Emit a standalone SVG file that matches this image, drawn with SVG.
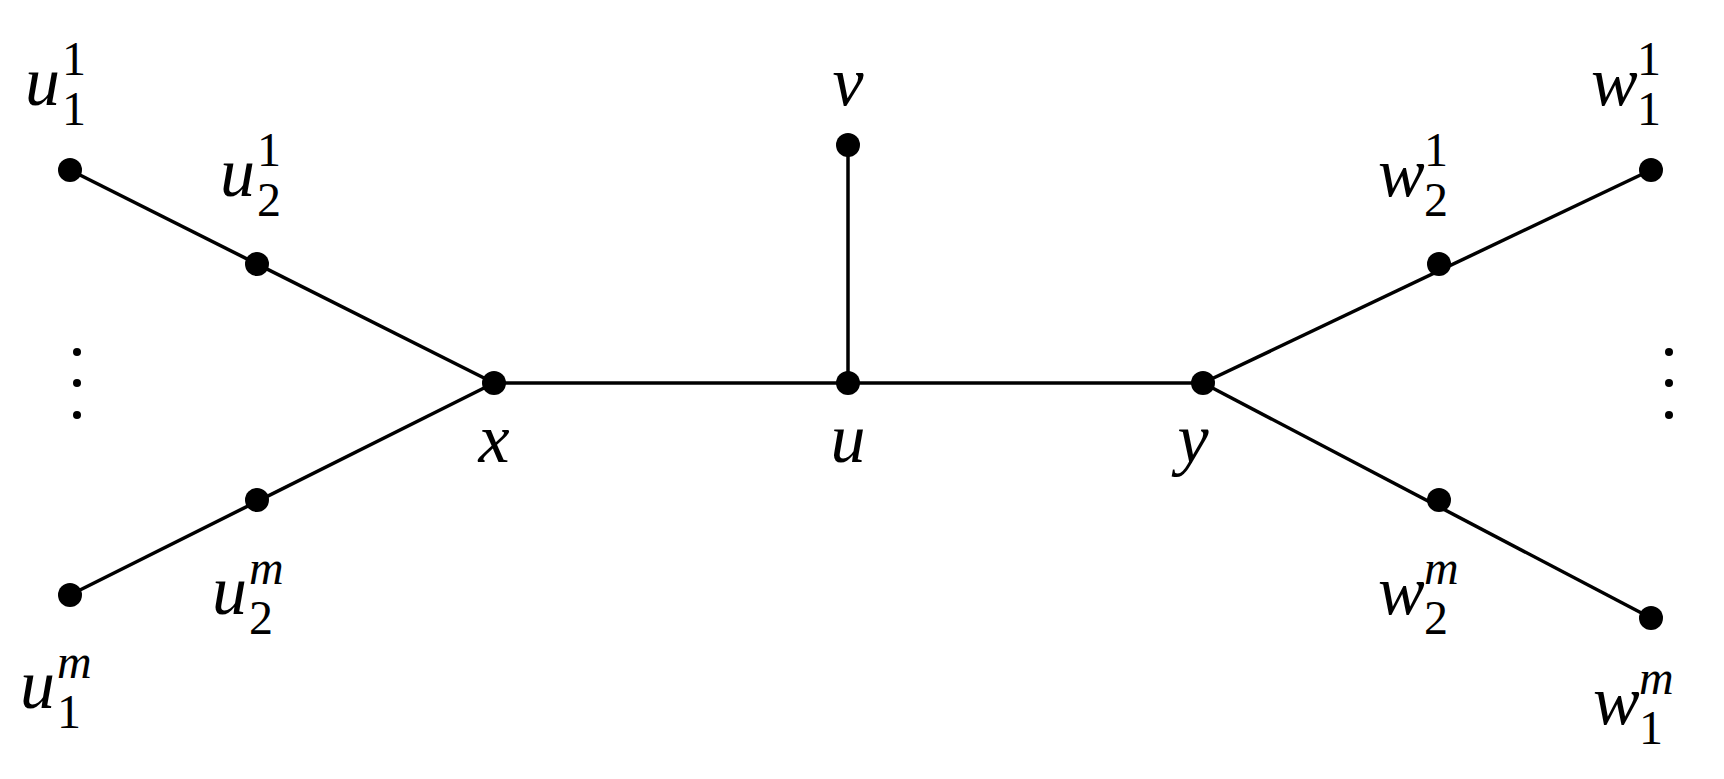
<svg xmlns="http://www.w3.org/2000/svg" width="1724" height="779" viewBox="0 0 1724 779">
<style>
.e{stroke:#000;stroke-width:3.5;fill:none}
.d{fill:#000}
text{font-family:"Liberation Serif","DejaVu Serif",serif;fill:#000}
.m{font-size:70px;font-style:italic}
.s{font-size:48px}
.si{font-size:48px;font-style:italic}
</style>
<rect width="1724" height="779" fill="#fff"/>
<g id="edges">
<line class="e" x1="70" y1="170" x2="494" y2="383"/>
<line class="e" x1="70" y1="595" x2="494" y2="383"/>
<line class="e" x1="494" y1="383" x2="1203" y2="383"/>
<line class="e" x1="848" y1="145" x2="848" y2="383"/>
<line class="e" x1="1651" y1="170" x2="1203" y2="383"/>
<line class="e" x1="1651" y1="618" x2="1203" y2="383"/>
</g>
<g id="n-u11"><circle class="d" cx="70" cy="170" r="12"/><text class="m" x="25" y="105">u</text><text class="s" x="62" y="125">1</text><text class="s" x="62" y="75">1</text></g>
<g id="n-u21"><circle class="d" cx="257" cy="264" r="12"/><text class="m" x="220" y="196">u</text><text class="s" x="257" y="216">2</text><text class="s" x="257" y="166">1</text></g>
<g id="n-x"><circle class="d" cx="494" cy="383" r="12"/><text class="m" x="494" y="462" text-anchor="middle">x</text></g>
<g id="n-u2m"><circle class="d" cx="257" cy="500" r="12"/><text class="m" x="212" y="614">u</text><text class="s" x="249" y="634">2</text><text class="si" x="249" y="584">m</text></g>
<g id="n-u1m"><circle class="d" cx="70" cy="595" r="12"/><text class="m" x="20" y="708">u</text><text class="s" x="57" y="728">1</text><text class="si" x="57" y="678">m</text></g>
<g id="n-v"><circle class="d" cx="848" cy="145" r="12"/><text class="m" x="848" y="105" text-anchor="middle">v</text></g>
<g id="n-u"><circle class="d" cx="848" cy="383" r="12"/><text class="m" x="848" y="462" text-anchor="middle">u</text></g>
<g id="n-y"><circle class="d" cx="1203" cy="383" r="12"/><text class="m" x="1193" y="462" text-anchor="middle">y</text></g>
<g id="n-w21"><circle class="d" cx="1439" cy="264" r="12"/><text class="m" x="1378" y="196">w</text><text class="s" x="1424" y="216">2</text><text class="s" x="1424" y="166">1</text></g>
<g id="n-w11"><circle class="d" cx="1651" cy="170" r="12"/><text class="m" x="1591" y="105">w</text><text class="s" x="1637" y="125">1</text><text class="s" x="1637" y="75">1</text></g>
<g id="n-w2m"><circle class="d" cx="1439" cy="500" r="12"/><text class="m" x="1378" y="614">w</text><text class="s" x="1424" y="634">2</text><text class="si" x="1424" y="584">m</text></g>
<g id="n-w1m"><circle class="d" cx="1651" cy="618" r="12"/><text class="m" x="1593" y="724">w</text><text class="s" x="1639" y="744">1</text><text class="si" x="1639" y="694">m</text></g>
<g id="vdots-left"><circle class="d" cx="77" cy="352" r="4"/><circle class="d" cx="77" cy="383" r="4"/><circle class="d" cx="77" cy="415" r="4"/></g>
<g id="vdots-right"><circle class="d" cx="1669" cy="352" r="4"/><circle class="d" cx="1669" cy="383" r="4"/><circle class="d" cx="1669" cy="415" r="4"/></g>
</svg>
